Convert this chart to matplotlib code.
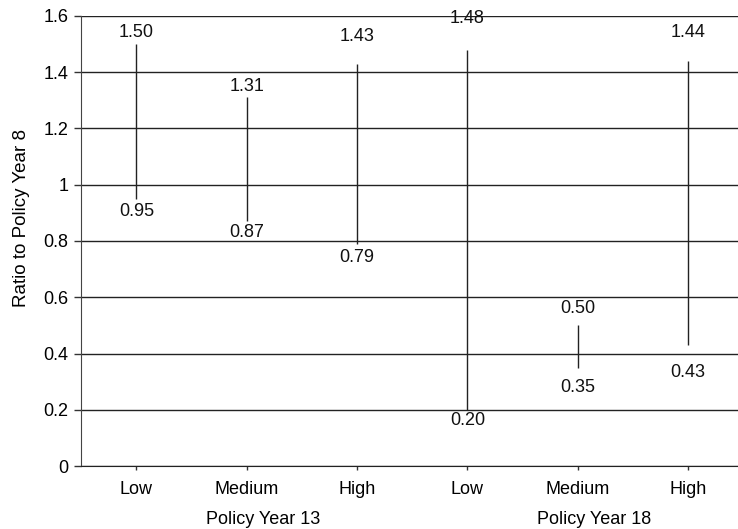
import matplotlib
matplotlib.use("Agg")
import matplotlib.pyplot as plt

categories = ["Low", "Medium", "High", "Low", "Medium", "High"]
groups = ["Policy Year 13", "Policy Year 18"]
high_values = [1.50, 1.31, 1.43, 1.48, 0.50, 1.44]
low_values = [0.95, 0.87, 0.79, 0.20, 0.35, 0.43]
yticks = [0, 0.2, 0.4, 0.6, 0.8, 1, 1.2, 1.4, 1.6]
ytick_labels = ["0", "0.2", "0.4", "0.6", "0.8", "1", "1.2", "1.4", "1.6"]

# label placement (pixels from the line end, styling only)
high_label_offsets = [12, 11, 27, 31, 17, 28]
low_label_offsets = [-13, -11, -14, -11, -20, -27]

plt.rcParams["font.family"] = ["Liberation Sans", "DejaVu Sans"]
FS = 13

fig = plt.figure(figsize=(7.38, 5.29), dpi=100)
ax = fig.add_axes([0.110, 0.119, 0.897, 0.851])

x = list(range(len(categories)))
ax.vlines(x, low_values, high_values, color="#222222", linewidth=1.0, zorder=3)

for xi, hv, lv, ho, lo in zip(x, high_values, low_values,
                              high_label_offsets, low_label_offsets):
    ax.annotate(f"{hv:.2f}", (xi, hv), xytext=(0, ho), textcoords="offset pixels",
                ha="center", va="center", fontsize=FS, color="#111111", zorder=4)
    ax.annotate(f"{lv:.2f}", (xi, lv), xytext=(0, lo), textcoords="offset pixels",
                ha="center", va="center", fontsize=FS, color="#111111", zorder=4)

ax.set_xlim(-0.5, len(categories) - 0.5)
ax.set_ylim(0, 1.6)
ax.set_yticks(yticks)
ax.set_yticklabels(ytick_labels, fontsize=FS)
ax.set_xticks(x)
ax.set_xticklabels(categories, fontsize=FS)
ax.tick_params(axis="y", length=5, width=1, color="#333333", pad=4)
ax.tick_params(axis="x", length=3, width=1, color="#333333", pad=8)

ax.yaxis.grid(True, color="#222222", linewidth=1.0)
ax.set_axisbelow(True)
for side in ["top", "right"]:
    ax.spines[side].set_visible(False)
ax.spines["left"].set_color("#444444")
ax.spines["bottom"].set_color("#222222")

ax.set_ylabel("Ratio to Policy Year 8", fontsize=FS + 0.5)
ax.yaxis.set_label_coords(-0.078, 0.55)

for gi, g in enumerate(groups):
    center = gi * 3 + 1
    ax.text(center + 0.15, -0.1, g, transform=ax.get_xaxis_transform(),
            ha="center", va="top", fontsize=FS)

fig.savefig("out.png", dpi=100)
